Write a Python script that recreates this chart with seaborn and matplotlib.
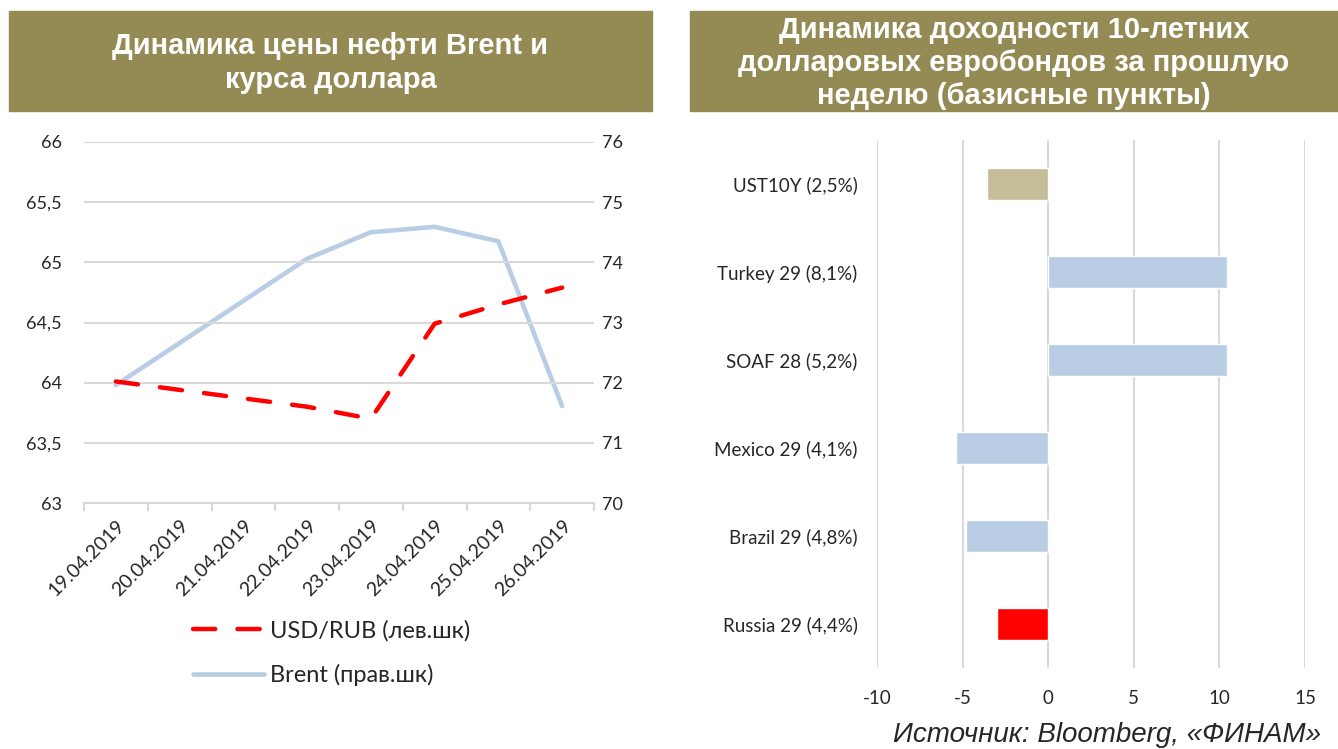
import numpy as np
import pandas as pd
import matplotlib
matplotlib.use("Agg")
import matplotlib.pyplot as plt
from matplotlib.patches import Rectangle
from matplotlib.ticker import FixedLocator, FuncFormatter
import seaborn as sns

# ------------------------------------------------------------------
# data
# ------------------------------------------------------------------
dates = ["19.04.2019", "20.04.2019", "21.04.2019", "22.04.2019",
         "23.04.2019", "24.04.2019", "25.04.2019", "26.04.2019"]
usd_rub = [64.01, np.nan, np.nan, 63.80, 63.70, 64.49, 64.65, 64.79]
brent = [71.96, np.nan, np.nan, 74.06, 74.50, 74.59, 74.35, 71.61]

bonds = ["UST10Y (2,5%)", "Turkey 29 (8,1%)", "SOAF 28 (5,2%)",
         "Mexico 29 (4,1%)", "Brazil 29 (4,8%)", "Russia 29 (4,4%)"]
bond_change = [-3.56, 10.43, 10.43, -5.41, -4.80, -2.98]
bond_colors = ["#c4bd97", "#b9cde5", "#b9cde5", "#b9cde5", "#b9cde5", "#ff0000"]

title_left = "Динамика цены нефти Brent и\nкурса доллара"
title_right = "Динамика доходности 10-летних\nдолларовых евробондов за прошлую\nнеделю (базисные пункты)"
source = "Источник: Bloomberg, «ФИНАМ»"

sns.set_style("white")
plt.rcParams["font.family"] = ["Lato", "DejaVu Sans"]
plt.rcParams["axes.unicode_minus"] = False

W, H = 1338, 749
fig = plt.figure(figsize=(W / 100, H / 100), dpi=100)


def fx(px):
    return px / W


def fy(py):
    return 1 - py / H


# ------------------------------------------------------------------
# title boxes
# ------------------------------------------------------------------
box_col = "#948a54"
for x0, x1, txt, ls in [(9, 652, title_left, 1.3), (690, 1338, title_right, 1.24)]:
    fig.patches.append(Rectangle((fx(x0), fy(111)), fx(x1 - x0), 100 / H,
                                 transform=fig.transFigure, color=box_col, zorder=0))
    fig.text(fx((x0 + x1) / 2), fy(63), txt, ha="center", va="center",
             color="white", fontsize=21, fontweight="bold",
             family=["Liberation Sans", "DejaVu Sans"], linespacing=ls)

# ------------------------------------------------------------------
# left: oil and USD/RUB
# ------------------------------------------------------------------
grid_col = "#d9d9d9"
ax = fig.add_axes([fx(84), fy(503), fx(594 - 84), (503 - 142) / H])
ax2 = ax.twinx()

df = pd.DataFrame({"pos": np.arange(len(dates)), "usd": usd_rub, "brent": brent})

sns.lineplot(data=df.dropna(subset=["brent"]), x="pos", y="brent", ax=ax2,
             color="#b9cde5", linewidth=3.3, solid_capstyle="round",
             label="Brent (прав.шк)", legend=False)
sns.lineplot(data=df.dropna(subset=["usd"]), x="pos", y="usd", ax=ax,
             color="#ff0000", linewidth=3.2, dashes=False, label="USD/RUB (лев.шк)",
             legend=False)
usd_line = ax.get_lines()[0]
usd_line.set_dashes([5, 5])
usd_line.set_dash_capstyle("round")
ax.set_zorder(ax2.get_zorder() + 1)
ax.patch.set_visible(False)

ax.set_xlim(-0.5, len(dates) - 0.5)
ax.set_ylim(63, 66)
ax2.set_ylim(70, 76)
ax.set_yticks(np.arange(63, 66.01, 0.5))
ax2.set_yticks(np.arange(70, 76.01, 1))
ax.yaxis.set_major_formatter(FuncFormatter(lambda v, p: f"{v:g}".replace(".", ",")))
ax.grid(axis="y", color=grid_col, linewidth=1.5)
ax.set_axisbelow(True)
for a in (ax, ax2):
    for s in a.spines.values():
        s.set_visible(False)
    a.set_xlabel("")
    a.set_ylabel("")
ax.spines["bottom"].set_visible(True)
ax.spines["bottom"].set_color(grid_col)
ax.spines["bottom"].set_linewidth(1.5)

ax.set_xticks(np.arange(len(dates)))
ax.set_xticklabels(dates, rotation=45, ha="right", rotation_mode="anchor")
ax.xaxis.set_minor_locator(FixedLocator(np.arange(-0.5, len(dates), 1)))
ax.tick_params(axis="x", which="major", length=0, pad=10, labelsize=14)
ax.tick_params(axis="x", which="minor", length=6, width=1.5, color=grid_col, bottom=True)
ax.tick_params(axis="y", length=0, pad=16, labelsize=13)
ax2.tick_params(axis="y", length=0, pad=6, labelsize=13)

handles = [ax.get_lines()[0], ax2.get_lines()[0]]
fig.legend(handles, [h.get_label() for h in handles], loc="center left",
           bbox_to_anchor=(fx(172), fy(653)), frameon=False, fontsize=17,
           handlelength=3.0, handletextpad=0.25, labelspacing=0.95)

# ------------------------------------------------------------------
# right: eurobond yields
# ------------------------------------------------------------------
bx = fig.add_axes([fx(877), fy(668), fx(1305 - 877), (668 - 140) / H])
bdf = pd.DataFrame({"bond": bonds, "change": bond_change})
sns.barplot(data=bdf, y="bond", x="change", hue="bond", palette=bond_colors,
            order=bonds, width=0.36, legend=False, ax=bx, saturation=1)
bx.set_xlim(-10, 15)
bx.set_xticks(np.arange(-10, 15.1, 5))
bx.grid(axis="x", color=grid_col, linewidth=1.5)
bx.set_axisbelow(True)
for s in bx.spines.values():
    s.set_visible(False)
bx.set_xlabel("")
bx.set_ylabel("")
bx.tick_params(axis="y", length=0, pad=14, labelsize=13.5)
bx.tick_params(axis="x", length=0, pad=16, labelsize=13.5)

fig.text(fx(893), fy(742), source, ha="left", va="baseline", fontsize=20,
         style="italic", family=["Liberation Sans", "DejaVu Sans"])

fig.savefig("out.png", dpi=100)
